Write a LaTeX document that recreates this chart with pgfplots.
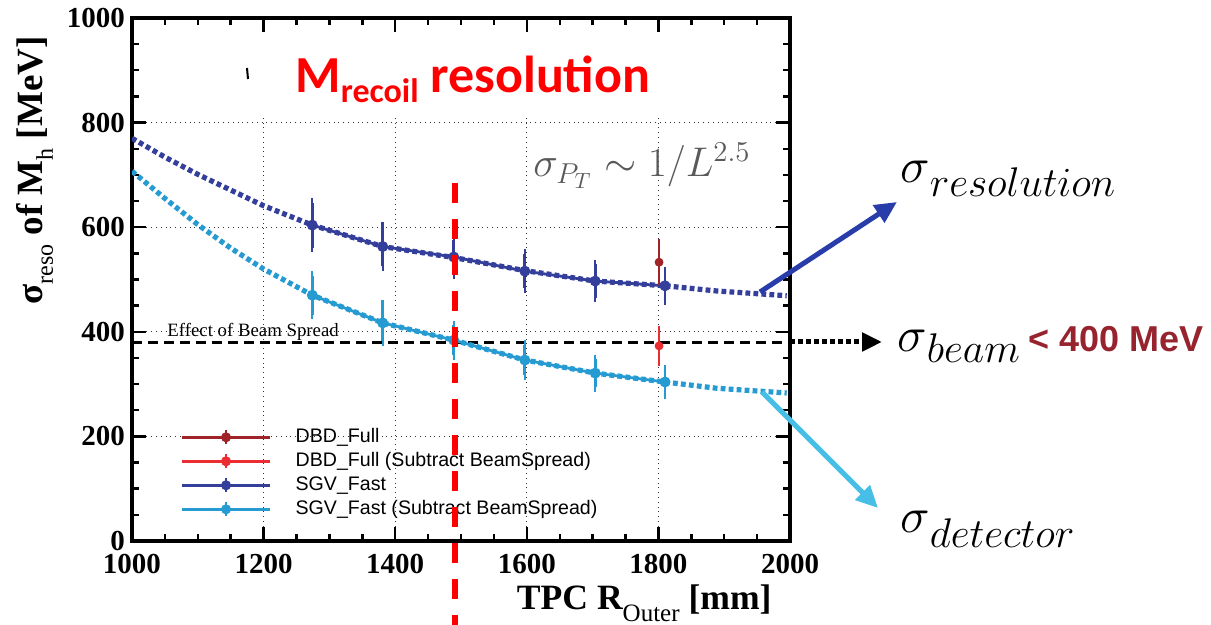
\documentclass[border=0pt]{standalone}
\usepackage{fontspec}
\setmainfont{Liberation Serif}
\newfontfamily\sansf{Liberation Sans}
\newfontfamily\calib{Carlito}
\usepackage{pgfplots}
\pgfplotsset{compat=1.18}
\usetikzlibrary{arrows.meta}
\definecolor{sgvblue}{RGB}{52,62,155}
\definecolor{sgvlight}{RGB}{38,155,210}
\definecolor{dbdred}{RGB}{160,35,40}
\definecolor{dbdlight}{RGB}{235,45,50}
\definecolor{arrowblue}{RGB}{40,60,170}
\definecolor{arrowlight}{RGB}{70,190,230}
\definecolor{beamred}{RGB}{150,35,45}

% legend symbol: line with a point and a short error bar
\newcommand\errleg[1]{\addlegendimage{legend image code/.code={
  \draw[#1,line width=1.6pt] (0pt,0pt)--(44pt,0pt);
  \draw[#1,line width=1.2pt] (22pt,-3.5pt)--(22pt,3.5pt);
  \fill[#1] (22pt,0pt) circle (2.3pt);}}}

\begin{document}
\begin{tikzpicture}
\useasboundingbox (-66pt,-42pt) rectangle (539.5pt,270.5pt);
\begin{axis}[
  name=ax,
  at={(0,0)}, anchor=south west,
  scale only axis,
  width=329pt, height=261.5pt,
  xmin=1000, xmax=2000, ymin=0, ymax=1000,
  xtick={1000,1200,...,2000},
  ytick={0,200,...,1000},
  minor x tick num=3, minor y tick num=3,
  tick align=inside,
  major tick length=7pt, minor tick length=3.5pt,
  every tick/.style={black, line width=1.2pt},
  axis line style={line width=1.6pt},
  grid=major,
  grid style={dotted, black!80, line width=0.6pt},
  /pgf/number format/1000 sep={},
  /pgf/number format/assume math mode=true,
  ticklabel style={font=\bfseries\fontsize{14.5}{14.5}\selectfont},
  xticklabel style={yshift=-3pt},
  xlabel={TPC R\raisebox{-6pt}{\mdseries\fontsize{12.5}{12.5}\selectfont Outer} [mm]},
  xlabel style={font=\bfseries\fontsize{17.8}{17.8}\selectfont,
    at={(axis description cs:0.9726,-0.1319)}, anchor=base east, inner sep=0pt},
  legend style={draw=none, fill=none,
    at={(axis description cs:0.073,0.222)}, anchor=north west,
    inner sep=0pt, row sep=0pt,
    font=\sansf\fontsize{9.8}{9.8}\selectfont,
    nodes={text height=7pt, text depth=2.2pt, inner ysep=1.4pt},
    /tikz/every odd column/.append style={column sep=10pt}},
  legend cell align=left,
]
% beam spread level
\addplot[black, line width=1.5pt, dash pattern=on 5pt off 3pt, forget plot]
  coordinates {(1000,380)(1992,380)};
% fitted curves
\addplot[sgvblue, line width=2.6pt, dash pattern=on 2.4pt off 1.6pt, forget plot]
  coordinates {(1000,770)(1050,734)(1100,701)(1150,671)(1200,641)(1274,604)
    (1381,563)(1489,542)(1597,517)(1704,497)(1810,488)(1889,478)(1995,469)};
\addplot[sgvlight, line width=2.6pt, dash pattern=on 2.4pt off 1.6pt, forget plot]
  coordinates {(1000,707)(1050,655)(1100,605)(1150,560)(1200,520)(1274,470)
    (1381,417)(1489,384)(1597,346)(1704,321)(1810,304)(1889,292)(1995,283)};
% measured points
\addplot[sgvblue, line width=1.4pt, mark=*, mark size=2pt, forget plot,
  error bars/.cd, y dir=both, y explicit,
  error bar style={line width=1.4pt}, error mark options={line width=1.2pt, mark size=2.2pt}]
  coordinates {(1274,604) +- (0,43) (1381,563) +- (0,38) (1489,543) +- (0,33)
    (1597,516) +- (0,33) (1704,497) +- (0,32) (1810,488) +- (0,28)};
\addplot[sgvlight, line width=1.4pt, mark=*, mark size=2pt, forget plot,
  error bars/.cd, y dir=both, y explicit,
  error bar style={line width=1.4pt}, error mark options={line width=1.2pt, mark size=2.2pt}]
  coordinates {(1274,470) +- (0,37) (1381,417) +- (0,35) (1489,384) +- (0,29)
    (1597,346) +- (0,29) (1704,321) +- (0,27) (1810,304) +- (0,24)};
\addplot[dbdred, only marks, mark=*, mark size=2pt, forget plot,
  error bars/.cd, y dir=both, y explicit,
  error bar style={line width=1.4pt}, error mark options={line width=1.2pt, mark size=2.2pt}]
  coordinates {(1801,533) +- (0,36)};
\addplot[dbdlight, only marks, mark=*, mark size=2pt, forget plot,
  error bars/.cd, y dir=both, y explicit,
  error bar style={line width=1.4pt}, error mark options={line width=1.2pt, mark size=2.2pt}]
  coordinates {(1801,373) +- (0,30)};
\errleg{dbdred}\addlegendentry{DBD\_Full}
\errleg{dbdlight}\addlegendentry{DBD\_Full (Subtract BeamSpread)}
\errleg{sgvblue}\addlegendentry{SGV\_Fast}
\errleg{sgvlight}\addlegendentry{SGV\_Fast (Subtract BeamSpread)}
\end{axis}

% y axis title
\node[rotate=90, anchor=base east, inner sep=0pt,
  font=\bfseries\fontsize{18.5}{18.5}\selectfont] at (-44.5pt,252.5pt)
  {σ\raisebox{-5pt}{\mdseries\fontsize{12}{12}\selectfont reso} of M\raisebox{-5pt}{\mdseries\fontsize{12}{12}\selectfont h} [MeV]};

% title box over the grid
\fill[white] (58pt,254pt) rectangle (323pt,211.5pt);
\draw[black, line width=1pt] (57.5pt,236.5pt) -- (58pt,231pt);
\node[anchor=base west, text=red, inner sep=0pt] at (81.5pt,224pt)
  {\calib\bfseries\fontsize{26}{26}\selectfont M\raisebox{-5pt}{\fontsize{17}{17}\selectfont recoil} resolution};
\node[anchor=base west, text=black!65, inner sep=0pt] at (200.5pt,182pt)
  {\fontsize{22.5}{22.5}\selectfont$\sigma_{P_T}\sim 1/L^{2.5}$};
\node[anchor=base west, inner sep=0pt] at (17.5pt,102pt)
  {\fontsize{9.4}{9.4}\selectfont Effect of Beam Spread};

% red cut line
\draw[red, line width=3pt, dash pattern=on 10pt off 8pt] (161.5pt,179pt) -- (161.5pt,-42pt);

% arrows to the components
\draw[arrowblue, line width=2.5pt, -{Triangle[length=11pt,width=10pt]}] (314pt,124.5pt) -- (382.5pt,169.5pt);
\draw[arrowlight, line width=2.5pt, -{Triangle[length=11pt,width=10pt]}] (315pt,74.5pt) -- (373pt,16.5pt);
\draw[black, line width=2.5pt, dash pattern=on 2.5pt off 1.5pt, -{Triangle[length=10pt,width=9pt]}] (329pt,99.5pt) -- (375pt,99.5pt);

\node[anchor=base west, inner sep=0pt] at (384pt,179pt)
  {\fontsize{23}{23}\selectfont$\sigma$\raisebox{-7pt}{\fontsize{21.5}{21.5}\selectfont$resolution$}};
\node[anchor=base west, inner sep=0pt] at (382.5pt,94.5pt)
  {\fontsize{23}{23}\selectfont$\sigma$\raisebox{-5.5pt}{\fontsize{21.5}{21.5}\selectfont$beam$}};
\node[anchor=base west, inner sep=0pt, text=beamred] at (448pt,94.5pt)
  {\sansf\bfseries\fontsize{18}{18}\selectfont < 400 MeV};
\node[anchor=base west, inner sep=0pt] at (384pt,4pt)
  {\fontsize{23}{23}\selectfont$\sigma$\raisebox{-7.5pt}{\fontsize{21.5}{21.5}\selectfont$detector$}};
\end{tikzpicture}
\end{document}
